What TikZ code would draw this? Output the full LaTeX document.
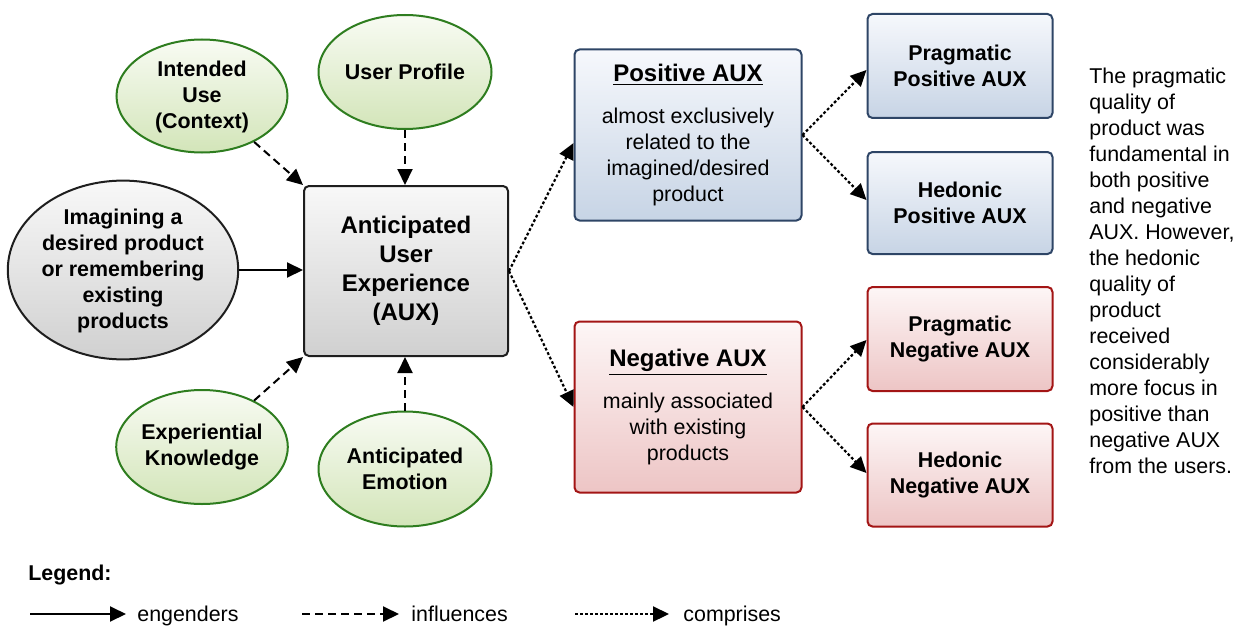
\documentclass[tikz,border=0pt]{standalone}
\usepackage{fontspec}
\setmainfont{Liberation Sans}
\usetikzlibrary{shapes.geometric,arrows.meta}
\definecolor{gborder}{HTML}{2E7D1F}
\definecolor{gtop}{HTML}{F8FBF3}
\definecolor{gbot}{HTML}{D3E5B9}
\definecolor{ktop}{HTML}{F8F8F8}
\definecolor{kbot}{HTML}{D0D0D0}
\definecolor{kborder}{HTML}{1E1E1E}
\definecolor{btop}{HTML}{F6F8FC}
\definecolor{bbot}{HTML}{C7D4E5}
\definecolor{bborder}{HTML}{2E4566}
\definecolor{rtop}{HTML}{FDF6F6}
\definecolor{rbot}{HTML}{EDC5C5}
\definecolor{rborder}{HTML}{A31515}
\newcommand\bigf{\fontsize{12}{14.5}\selectfont}
\newcommand\smf{\fontsize{10.7}{13}\selectfont}
\tikzset{
  base/.style={line width=1pt, align=center, inner sep=0pt},
  gell/.style={base, ellipse, draw=gborder, top color=gtop, bottom color=gbot, font=\smf\bfseries},
  kell/.style={base, ellipse, draw=kborder, top color=ktop, bottom color=kbot, font=\smf\bfseries},
  kbox/.style={base, rectangle, rounded corners=2.5pt, draw=kborder, top color=ktop, bottom color=kbot, font=\bigf\bfseries},
  bbox/.style={base, rectangle, rounded corners=2.5pt, draw=bborder, top color=btop, bottom color=bbot, font=\smf},
  rbox/.style={base, rectangle, rounded corners=2.5pt, draw=rborder, top color=rtop, bottom color=rbot, font=\smf},
  tip/.style={-{Triangle[length=8pt,width=7.5pt]}},
  engender/.style={tip, line width=1pt},
  influence/.style={tip, line width=1pt, dash pattern=on 4pt off 2.5pt},
  comprise/.style={tip, line width=1.1pt, dash pattern=on 1.4pt off 1.1pt},
  plain/.style={inner sep=0pt, font=\smf},
}
\begin{document}
\begin{tikzpicture}[x=0.5pt,y=-0.5pt]
\useasboundingbox (0,0) rectangle (1246,626);
% left side
\node[gell, minimum width=85.5pt, minimum height=56.5pt] (iu) at (202,96) {\rule{0pt}{9pt}Intended\\Use\\(Context)};
\node[gell, minimum width=86.5pt, minimum height=57pt] (up) at (405,72) {User Profile};
\node[kell, minimum width=113pt, minimum height=85pt] (im) at (123,270) {\rule{0pt}{9pt}Imagining a\\desired product\\or remembering\\existing\\products};
\node[kbox, minimum width=102pt, minimum height=85pt] (aux) at (406,271) {Anticipated\\User\\Experience\\(AUX)};
\node[gell, minimum width=84.5pt, minimum height=57pt] (ek) at (202,447) {Experiential\\Knowledge};
\node[gell, minimum width=86.5pt, minimum height=57.5pt] (ae) at (405,469) {Anticipated\\Emotion};
% middle
\node[bbox, minimum width=113.5pt, minimum height=85.5pt] (pos) at (688,135) {{\bigf\bfseries\underline{Positive AUX}}\\[8pt]almost exclusively\\related to the\\imagined/desired\\product};
\node[rbox, minimum width=113.5pt, minimum height=85.5pt] (neg) at (688,407) {{\bigf\bfseries\underline{Negative AUX}}\\[8pt]mainly associated\\with existing\\products};
% right boxes
\node[bbox, font=\smf\bfseries, minimum width=92.5pt, minimum height=52pt] (pp) at (960,66) {Pragmatic\\Positive AUX};
\node[bbox, font=\smf\bfseries, minimum width=92.5pt, minimum height=51pt] (hp) at (960,203) {Hedonic\\Positive AUX};
\node[rbox, font=\smf\bfseries, minimum width=92.5pt, minimum height=52pt] (pn) at (960,339) {Pragmatic\\Negative AUX};
\node[rbox, font=\smf\bfseries, minimum width=92.5pt, minimum height=51.5pt] (hn) at (960,475) {Hedonic\\Negative AUX};
% note
\node[plain, align=left, anchor=north west] (note) at (1089,68) {The pragmatic\\quality of\\product was\\fundamental in\\both positive\\and negative\\AUX. However,\\the hedonic\\quality of\\product\\received\\considerably\\more focus in\\positive than\\negative AUX\\from the users.};
% connectors
\draw[engender] (im) -- (aux.west |- im);
\draw[influence] (iu) -- (aux.north west);
\draw[influence] (up) -- (aux.north -| up);
\draw[influence] (ek) -- (aux.south west);
\draw[influence] (ae) -- (aux.south -| ae);
\draw[comprise] (aux.east) -- ([yshift=-4pt]pos.west);
\draw[comprise] (aux.east) -- (neg.west);
\draw[comprise] (pos.east) -- ([yshift=-2pt]pp.west);
\draw[comprise] (pos.east) -- ([yshift=1.5pt]hp.west);
\draw[comprise] (neg.east) -- ([yshift=-0.5pt]pn.west);
\draw[comprise] (neg.east) -- ([yshift=1pt]hn.west);
% legend
\node[plain, font=\smf\bfseries, anchor=base west] (leg) at (28,580) {Legend:};
\coordinate (l1a) at (30,614); \coordinate (l1b) at (126,614);
\coordinate (l2a) at (302,614); \coordinate (l2b) at (399,614);
\coordinate (l3a) at (575,614); \coordinate (l3b) at (669,614);
\draw[engender] (l1a) -- (l1b);
\draw[influence] (l2a) -- (l2b);
\draw[comprise] (l3a) -- (l3b);
\node[plain, anchor=base west] (t1) at (137,621) {engenders};
\node[plain, anchor=base west] (t2) at (411,621) {influences};
\node[plain, anchor=base west] (t3) at (683,621) {comprises};
\end{tikzpicture}
\end{document}
